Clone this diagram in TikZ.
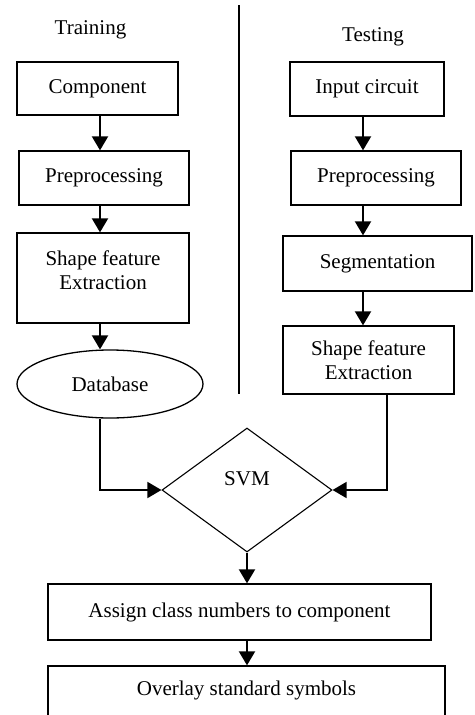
\documentclass[tikz,border=0pt]{standalone}
\usepackage{fontspec}
\setmainfont{Liberation Serif}
\usetikzlibrary{shapes.geometric,arrows.meta}
\begin{document}
\begin{tikzpicture}[x=1pt,y=-1pt,
  box/.style={draw,line width=1.3pt,rectangle,inner sep=0pt,align=center,font=\fontsize{21}{24}\selectfont},
  txt/.style={font=\fontsize{21}{24}\selectfont,inner sep=0pt,align=center},
  arr/.style={line width=2pt,-{Triangle[length=14pt,width=16pt]}},
  conn/.style={line width=1.6pt,-{Triangle[length=14pt,width=16pt]}}]
\useasboundingbox (0,0) rectangle (474,715);
\clip (0,0) rectangle (474,715);
% headings
\node[txt] (train) at (90.5,30) {Training};
\node[txt] (test) at (373,37) {Testing};
\coordinate (dtop) at (239,5);
\coordinate (dbot) at (239,394);
\draw[line width=2pt] (dtop) -- (dbot);
% training column
\node[box,minimum width=161,minimum height=53] (comp) at (97.5,88.5) {Component};
\node[box,minimum width=170,minimum height=54] (preL) at (104,178) {Preprocessing};
\node[box,minimum width=172,minimum height=90,
  label={[txt,yshift=8]center:Shape feature\\Extraction}] (shapeL) at (103,278) {};
\node[draw,ellipse,line width=1.3pt,minimum width=186,minimum height=68,inner sep=0pt,txt] (db) at (110,384) {Database};
% testing column
\node[box,minimum width=154,minimum height=54] (inp) at (367,89) {Input circuit};
\node[box,minimum width=170,minimum height=54] (preR) at (376,178) {Preprocessing};
\node[box,minimum width=189,minimum height=55] (seg) at (377.5,263.5) {Segmentation};
\node[box,minimum width=171,minimum height=68] (shapeR) at (368.5,360) {Shape feature\\Extraction};
% svm
\node[draw,diamond,line width=1.1pt,minimum width=170,minimum height=124,inner sep=0pt,
  label={[txt,yshift=11]center:SVM}] (svm) at (247,490) {};
% bottom
\node[box,minimum width=383,minimum height=56] (assign) at (239.5,612) {Assign class numbers to component};
\node[box,minimum width=397,minimum height=70,text height=0pt] (over) at (246.5,701) {};
\node[txt] (overt) at (246.5,690) {Overlay standard symbols};
% x coordinates for arrows
\coordinate (xl) at (100,0);
\coordinate (xr) at (363,0);
\coordinate (xs) at (387,0);
\coordinate (xm) at (247,0);
\draw[arr] (comp.south -| xl) -- (preL.north -| xl);
\draw[arr] (preL.south -| xl) -- (shapeL.north -| xl);
\draw[arr] (shapeL.south -| xl) -- (db.north -| xl);
\draw[arr] (inp.south -| xr) -- (preR.north -| xr);
\draw[arr] (preR.south -| xr) -- (seg.north -| xr);
\draw[arr] (seg.south -| xr) -- (shapeR.north -| xr);
\draw[conn] (db.south -| xl) |- (svm.west);
\draw[conn] (shapeR.south -| xs) |- (svm.east);
\draw[arr] (svm.south) -- (assign.north -| xm);
\draw[arr] (assign.south -| xm) -- (over.north -| xm);
\end{tikzpicture}
\end{document}
